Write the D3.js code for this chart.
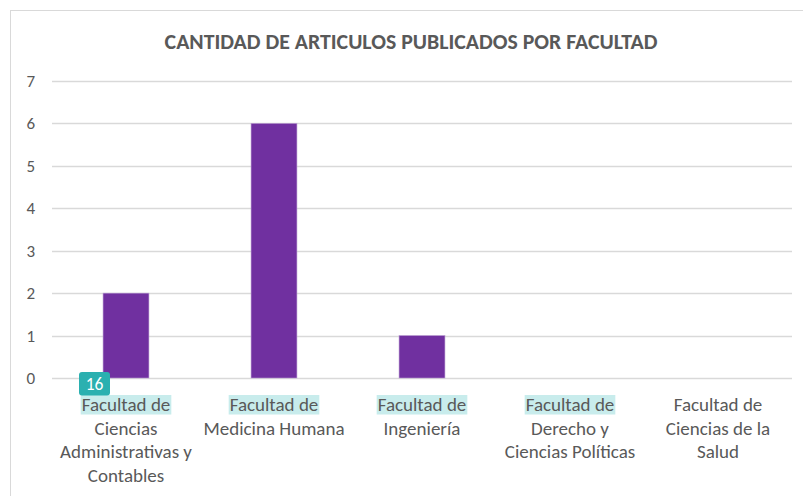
<!DOCTYPE html>
<html>
<head>
  <meta charset="utf-8">
  <script src="https://d3js.org/d3.v7.min.js"></script>
  <style>
    body { margin: 0; background: #fff; }
    text { font-family: Carlito, Calibri, Lato, "Open Sans", sans-serif; }
  </style>
</head>
<body>
<script>
  var w = 803, h = 496;

  // data
  var categories = [
    ["Facultad de", "Ciencias", "Administrativas y", "Contables"],
    ["Facultad de", "Medicina Humana"],
    ["Facultad de", "Ingeniería"],
    ["Facultad de", "Derecho y", "Ciencias Políticas"],
    ["Facultad de", "Ciencias de la", "Salud"]
  ];
  var articulos = [2, 6, 1, 0, 0];
  var yTicks = [0, 1, 2, 3, 4, 5, 6, 7];
  var highlighted = [true, true, true, true, false];
  var title = "CANTIDAD DE ARTICULOS PUBLICADOS POR FACULTAD";

  var margin = {left: 52, right: 11, top: 81, bottom: 118};

  var svg = d3.select("body").append("svg").attr("width", w).attr("height", h);

  // chart border
  svg.append("rect")
    .attr("x", 10.5).attr("y", 10.5)
    .attr("width", w + 20).attr("height", h + 20)
    .attr("fill", "none").attr("stroke", "#d9d9d9");

  var x = d3.scaleBand()
    .domain(d3.range(categories.length))
    .range([margin.left, w - margin.right])
    .paddingInner(0.69).paddingOuter(0.345);

  var y = d3.scaleLinear()
    .domain([0, 7])
    .range([h - margin.bottom, margin.top]);

  // gridlines
  svg.append("g").selectAll("line")
    .data(yTicks)
    .enter().append("line")
    .attr("x1", margin.left).attr("x2", w - margin.right)
    .attr("y1", function(d){ return Math.round(y(d)) + 0.5; })
    .attr("y2", function(d){ return Math.round(y(d)) + 0.5; })
    .attr("stroke", "#d9d9d9").attr("stroke-width", 1.3);

  // y axis labels
  var yAxis = d3.axisLeft(y).tickValues(yTicks).tickFormat(d3.format("d")).tickSize(0).tickPadding(0);
  var gy = svg.append("g").attr("transform", "translate(35,0)").call(yAxis);
  gy.select(".domain").remove();
  gy.selectAll("text")
    .attr("font-size", "17px")
    .attr("fill", "#595959")
    .style("font-family", "Carlito, Calibri, Lato, sans-serif");

  // bars
  svg.append("g").selectAll("rect")
    .data(articulos)
    .enter().append("rect")
    .attr("x", function(d, i){ return x(i); })
    .attr("y", function(d){ return y(d); })
    .attr("width", x.bandwidth())
    .attr("height", function(d){ return y(0) - y(d); })
    .attr("fill", "#7030a0")
    .attr("stroke", "#b89ad0").attr("stroke-width", 0.6)
    .attr("display", function(d){ return d > 0 ? null : "none"; });

  // category labels
  var labels = svg.append("g").selectAll("g")
    .data(categories)
    .enter().append("g")
    .attr("transform", function(d, i){ return "translate(" + (x(i) + x.bandwidth() / 2) + ",0)"; });

  labels.each(function(lines, i){
    var g = d3.select(this);
    var t = g.append("text")
      .attr("text-anchor", "middle")
      .attr("font-size", "19px")
      .attr("fill", "#595959");
    lines.forEach(function(line, k){
      t.append("tspan").attr("x", 0).attr("y", 411 + k * 23.7).text(line);
    });
    if (highlighted[i]) {
      var first = t.select("tspan").node().getBBox();
      g.insert("rect", "text")
        .attr("x", first.x - 1).attr("y", 395)
        .attr("width", first.width + 2).attr("height", 19.5)
        .attr("fill", "#c8ecec");
    }
  });

  // comment badge
  var badge = svg.append("g").attr("transform", "translate(79,372)");
  badge.append("rect")
    .attr("width", 31).attr("height", 23.5).attr("rx", 3)
    .attr("fill", "#2bb0b0");
  badge.append("text")
    .attr("x", 15.5).attr("y", 18)
    .attr("text-anchor", "middle")
    .attr("font-size", "17.5px")
    .attr("fill", "#fff")
    .text("16");

  // title
  svg.append("text")
    .attr("x", 411).attr("y", 49)
    .attr("text-anchor", "middle")
    .attr("font-size", "21.8px")
    .attr("font-weight", "bold")
    .attr("fill", "#595959")
    .text(title);
</script>
</body>
</html>
